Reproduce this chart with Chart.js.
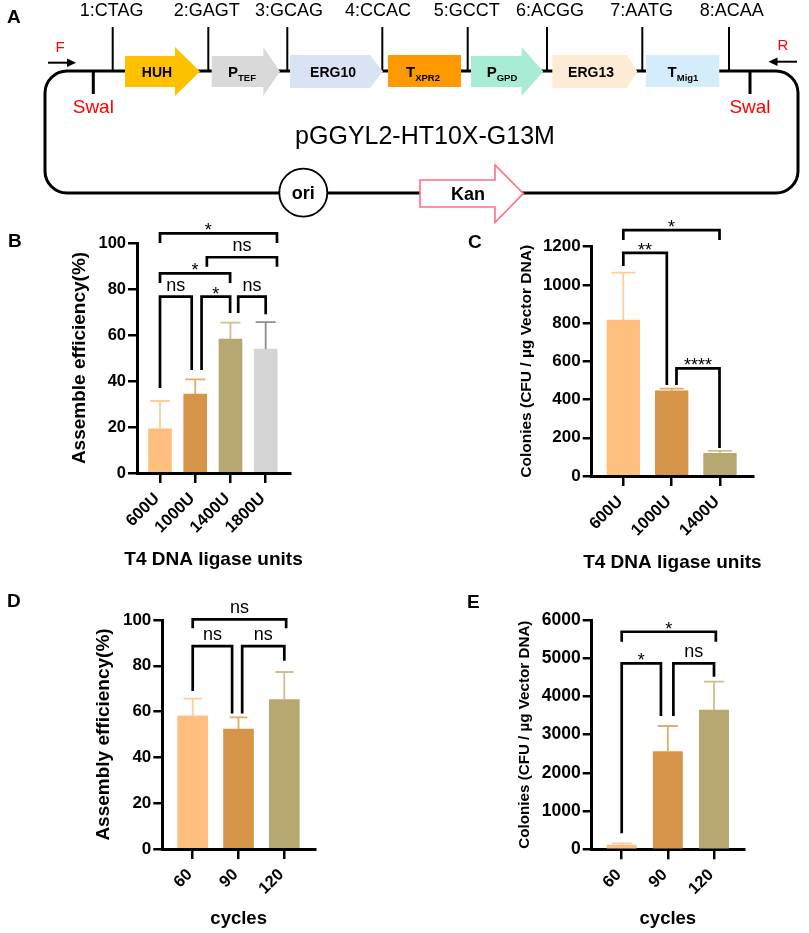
<!DOCTYPE html>
<html>
<head>
<meta charset="utf-8">
<script src="https://cdn.jsdelivr.net/npm/chart.js@4.4.1/dist/chart.umd.min.js"></script>
<style>
  html, body { margin: 0; padding: 0; background: #fff; }
  #page { position: relative; width: 809px; height: 933px; overflow: hidden; }
  #diagram { position: absolute; left: 0; top: 0; width: 809px; height: 933px; }
  .panel { position: absolute; }
</style>
</head>
<body>
<div id="page">
  <canvas id="diagram"></canvas>
  <div class="panel" id="panelB"><canvas></canvas></div>
  <div class="panel" id="panelC"><canvas></canvas></div>
  <div class="panel" id="panelD"><canvas></canvas></div>
  <div class="panel" id="panelE"><canvas></canvas></div>
</div>
<script>
// ---- data ----
// B: assembly efficiency vs T4 ligase units
const ligaseUnitsB = ['600U', '1000U', '1400U', '1800U'];
const efficiencyB = [19.2, 34.3, 58.2, 53.9];
const efficiencyErrB = [12.1, 6.4, 7.2, 11.7];
const yTicksB = [0, 20, 40, 60, 80, 100];
// brackets: from/to in bar index, at/leftEnd/rightEnd in axis units
const bracketsB = [
  { from: 0, to: 3.32, at: 104.2, leftEnd: 100, rightEnd: 100, text: '*', labelAt: 1.37 },
  { from: 1.33, to: 3.32, at: 93.8, leftEnd: 89.7, rightEnd: 89.7, text: 'ns' },
  { from: 0, to: 1.99, at: 86.8, leftEnd: 82.6, rightEnd: 82.6, text: '*' },
  { from: 0, to: 0.9, at: 76.7, leftEnd: 37, rightEnd: 44.8, text: 'ns' },
  { from: 1.18, to: 1.99, at: 76.7, leftEnd: 44.8, rightEnd: 69.6, text: '*' },
  { from: 2.22, to: 3.0, at: 76.7, leftEnd: 69.6, rightEnd: 69, text: 'ns' }
];

// C: colonies vs T4 ligase units
const ligaseUnitsC = ['600U', '1000U', '1400U'];
const coloniesC = [816, 446, 119];
const coloniesErrC = [248, 11, 12];
const yTicksC = [0, 200, 400, 600, 800, 1000, 1200];
const bracketsC = [
  { from: 0, to: 1.99, at: 1287, leftEnd: 1235, rightEnd: 1235, text: '*' },
  { from: 0, to: 0.9, at: 1168, leftEnd: 1099, rightEnd: 476, text: '**' },
  { from: 1.1, to: 1.99, at: 563, leftEnd: 476, rightEnd: 146, text: '****' }
];

// D: assembly efficiency vs cycles
const cyclesD = ['60', '90', '120'];
const efficiencyD = [58.2, 52.4, 65.2];
const efficiencyErrD = [7.5, 5.1, 12.1];
const yTicksD = [0, 20, 40, 60, 80, 100];
const bracketsD = [
  { from: 0, to: 2.04, at: 100.3, leftEnd: 96.4, rightEnd: 96.4, text: 'ns' },
  { from: 0, to: 0.86, at: 88.6, leftEnd: 69, rightEnd: 59.2, text: 'ns' },
  { from: 1.08, to: 2, at: 88.6, leftEnd: 59.2, rightEnd: 82.2, text: 'ns' }
];

// E: colonies vs cycles
const cyclesE = ['60', '90', '120'];
const coloniesE = [113, 2554, 3645];
const coloniesErrE = [44, 672, 741];
const yTicksE = [0, 1000, 2000, 3000, 4000, 5000, 6000];
const bracketsE = [
  { from: 0, to: 2.04, at: 5693, leftEnd: 5432, rightEnd: 5432, text: '*' },
  { from: 0, to: 0.85, at: 4867, leftEnd: 419, rightEnd: 3488, text: '*' },
  { from: 1.12, to: 2, at: 4867, leftEnd: 3488, rightEnd: 4518, text: 'ns' }
];

// A: plasmid map
const siteLabels = ['1:CTAG', '2:GAGT', '3:GCAG', '4:CCAC', '5:GCCT', '6:ACGG', '7:AATG', '8:ACAA'];
const parts = [
  { name: 'HUH', sub: '', shape: 'arrow', fill: '#FFC000' },
  { name: 'P', sub: 'TEF', shape: 'arrow', fill: '#D9D9D9' },
  { name: 'ERG10', sub: '', shape: 'tag', fill: '#DAE3F3' },
  { name: 'T', sub: 'XPR2', shape: 'box', fill: '#FF9900' },
  { name: 'P', sub: 'GPD', shape: 'arrow', fill: '#A8ECD5' },
  { name: 'ERG13', sub: '', shape: 'tag', fill: '#FDEBD5' },
  { name: 'T', sub: 'Mig1', shape: 'box', fill: '#D5ECFA' }
];

const barColors = ['#FFC07F', '#D59447', '#B6A870', '#D5D5D5'];
const errColors = ['#FDCD9B', '#E2AC6C', '#CDC08E', '#8E8E8E'];

const FONT = "'Liberation Sans', Arial, Helvetica, sans-serif";
Chart.defaults.font.family = FONT;
Chart.defaults.color = '#000';

// ---- panel A and panel letters ----
function drawDiagram() {
  const cv = document.getElementById('diagram');
  const dpr = window.devicePixelRatio || 1;
  cv.width = 809 * dpr; cv.height = 933 * dpr;
  const ctx = cv.getContext('2d');
  ctx.scale(dpr, dpr);

  ctx.strokeStyle = '#000';
  ctx.lineWidth = 3;
  ctx.beginPath();
  ctx.roundRect(45, 71, 753, 122, 22);
  ctx.stroke();

  // cut sites
  const siteX = [112.7, 208.3, 287.3, 382.3, 467.7, 547, 642.3, 729];
  const siteTextX = [111.7, 206.7, 289, 378, 466.7, 550, 641.7, 731.7];
  ctx.lineWidth = 2;
  ctx.font = '18px ' + FONT;
  ctx.textAlign = 'center';
  ctx.fillStyle = '#000';
  siteLabels.forEach((s, i) => {
    ctx.beginPath(); ctx.moveTo(siteX[i], 27); ctx.lineTo(siteX[i], 71); ctx.stroke();
    ctx.fillText(s, siteTextX[i], 16);
  });

  // parts
  const geom = [
    [125, 175, 200, 157], [211.7, 263.3, 280, 242], [290, 370, 383, 333],
    [388, 461, 461, 423], [471, 521.7, 543.3, 502], [552.3, 626.7, 637.3, 591],
    [646, 719.3, 719.3, 683]
  ];
  parts.forEach((p, i) => {
    const [x0, x1, x2, tx] = geom[i];
    ctx.beginPath();
    if (p.shape === 'arrow') {
      ctx.moveTo(x0, 56); ctx.lineTo(x1, 56); ctx.lineTo(x1, 47); ctx.lineTo(x2, 71.5);
      ctx.lineTo(x1, 96); ctx.lineTo(x1, 87); ctx.lineTo(x0, 87);
    } else if (p.shape === 'tag') {
      ctx.moveTo(x0, 55); ctx.lineTo(x1, 55); ctx.lineTo(x2, 71.5); ctx.lineTo(x1, 88); ctx.lineTo(x0, 88);
    } else {
      ctx.rect(x0, 55, x1 - x0, 32);
    }
    ctx.closePath();
    ctx.fillStyle = p.fill;
    ctx.fill();

    ctx.fillStyle = '#000';
    ctx.textAlign = 'left';
    const mainFont = 'bold ' + (p.sub ? 15 : 14) + 'px ' + FONT;
    const subFont = 'bold 9.5px ' + FONT;
    ctx.font = mainFont;
    const w1 = ctx.measureText(p.name).width;
    ctx.font = subFont;
    const w2 = p.sub ? ctx.measureText(p.sub).width : 0;
    const sx = tx - (w1 + w2) / 2;
    ctx.font = mainFont;
    ctx.fillText(p.name, sx, 77);
    if (p.sub) { ctx.font = subFont; ctx.fillText(p.sub, sx + w1, 80.5); }
  });

  // SwaI sites
  ctx.lineWidth = 3;
  [93.3, 750].forEach(x => {
    ctx.beginPath(); ctx.moveTo(x, 71); ctx.lineTo(x, 94); ctx.stroke();
  });
  ctx.fillStyle = '#FF0000';
  ctx.textAlign = 'center';
  ctx.font = '19px ' + FONT;
  ctx.fillText('Swal', 93.3, 113);
  ctx.fillText('Swal', 750, 113);
  ctx.font = '15px ' + FONT;
  ctx.fillText('F', 60, 52);
  ctx.fillText('R', 783, 50);

  // primers
  ctx.strokeStyle = '#000'; ctx.fillStyle = '#000'; ctx.lineWidth = 2;
  ctx.beginPath(); ctx.moveTo(48, 62.7); ctx.lineTo(70, 62.7); ctx.stroke();
  ctx.beginPath(); ctx.moveTo(76, 62.7); ctx.lineTo(67, 58.5); ctx.lineTo(67, 67); ctx.closePath(); ctx.fill();
  ctx.beginPath(); ctx.moveTo(797, 61.7); ctx.lineTo(775, 61.7); ctx.stroke();
  ctx.beginPath(); ctx.moveTo(768.5, 61.7); ctx.lineTo(777.5, 57.5); ctx.lineTo(777.5, 66); ctx.closePath(); ctx.fill();

  // plasmid name
  ctx.font = '25px ' + FONT;
  ctx.fillText('pGGYL2-HT10X-G13M', 425, 144);

  // ori
  ctx.beginPath(); ctx.arc(303.3, 192.7, 24, 0, Math.PI * 2);
  ctx.fillStyle = '#fff'; ctx.fill();
  ctx.lineWidth = 1.8; ctx.strokeStyle = '#000'; ctx.stroke();
  ctx.fillStyle = '#000'; ctx.font = 'bold 18px ' + FONT;
  ctx.fillText('ori', 303.3, 199);

  // Kan
  ctx.beginPath();
  ctx.moveTo(420, 180); ctx.lineTo(495, 180); ctx.lineTo(495, 165); ctx.lineTo(523.3, 193.5);
  ctx.lineTo(495, 222.5); ctx.lineTo(495, 207); ctx.lineTo(420, 207); ctx.closePath();
  ctx.fillStyle = '#fff'; ctx.fill();
  ctx.strokeStyle = '#FF6F80'; ctx.lineWidth = 1.6; ctx.stroke();
  ctx.fillStyle = '#000'; ctx.font = 'bold 18px ' + FONT;
  ctx.fillText('Kan', 468, 200);

  // panel letters
  ctx.textAlign = 'left';
  ctx.font = 'bold 19px ' + FONT;
  [['A', 7, 23], ['B', 8, 247], ['C', 468, 248], ['D', 7, 607], ['E', 467, 608]]
    .forEach(([t, x, y]) => ctx.fillText(t, x, y));
}

// ---- bar panels ----
function barPanel(id, p) {
  const el = document.getElementById(id);
  const [L, T, W, H] = p.box;
  Object.assign(el.style, { left: L + 'px', top: T + 'px', width: W + 'px', height: H + 'px' });
  const a = p.area;
  const padLeft = 10, padBottom = 4;
  const yWidth = a.l - padLeft;
  const xHeight = H - padBottom - a.b;

  const marks = {
    id: 'marks',
    afterDatasetsDraw(chart) {
      const { ctx, scales: { x, y } } = chart;
      ctx.save();
      ctx.lineWidth = 1.8;
      p.values.forEach((v, i) => {
        const px = x.getPixelForValue(i);
        const top = y.getPixelForValue(v + p.errors[i]);
        ctx.strokeStyle = errColors[i];
        ctx.beginPath();
        ctx.moveTo(px, y.getPixelForValue(v)); ctx.lineTo(px, top);
        ctx.moveTo(px - p.capW / 2, top); ctx.lineTo(px + p.capW / 2, top);
        ctx.stroke();
      });
      ctx.restore();
    },
    afterDraw(chart) {
      const { ctx, chartArea: ca, scales: { x, y } } = chart;
      ctx.save();
      ctx.strokeStyle = '#000'; ctx.fillStyle = '#000';
      ctx.lineWidth = 2.7; ctx.lineJoin = 'miter'; ctx.lineCap = 'butt';
      ctx.font = '18px ' + FONT; ctx.textAlign = 'center'; ctx.textBaseline = 'alphabetic';
      p.brackets.forEach(b => {
        const x1 = x.getPixelForValue(b.from), x2 = x.getPixelForValue(b.to);
        const yy = y.getPixelForValue(b.at);
        ctx.beginPath();
        ctx.moveTo(x1, y.getPixelForValue(b.leftEnd));
        ctx.lineTo(x1, yy); ctx.lineTo(x2, yy);
        ctx.lineTo(x2, y.getPixelForValue(b.rightEnd));
        ctx.stroke();
        const lx = x.getPixelForValue(b.labelAt !== undefined ? b.labelAt : (b.from + b.to) / 2);
        ctx.fillText(b.text, lx, b.text === 'ns' ? yy - 6 : yy + 3);
      });

      // axis titles (drawn here so they are not squeezed to the axis length)
      ctx.textBaseline = 'middle';
      ctx.font = 'bold ' + p.xTitleSize + 'px ' + FONT;
      ctx.fillText(p.xTitle, (ca.left + ca.right) / 2, p.xTitleY);
      ctx.translate(p.yTitleX, (ca.top + ca.bottom) / 2);
      ctx.rotate(-Math.PI / 2);
      ctx.font = 'bold ' + p.yTitleSize + 'px ' + FONT;
      ctx.fillText(p.yTitle, 0, 0);
      ctx.restore();
    }
  };

  new Chart(el.querySelector('canvas'), {
    type: 'bar',
    data: {
      datasets: [{
        data: p.values.map((v, i) => ({ x: i, y: v })),
        backgroundColor: barColors.slice(0, p.values.length),
        barThickness: p.barW,
        borderWidth: 0
      }]
    },
    options: {
      responsive: true,
      maintainAspectRatio: false,
      animation: false,
      layout: { padding: { left: padLeft, top: a.t, right: W - a.r, bottom: padBottom } },
      plugins: { legend: { display: false }, tooltip: { enabled: false } },
      scales: {
        x: {
          type: 'linear', min: p.xMin, max: p.xMax, offset: false, z: 1,
          afterFit: s => { s.height = xHeight; },
          afterBuildTicks: s => { s.ticks = p.labels.map((_, i) => ({ value: i })); },
          ticks: {
            callback: v => p.labels[v], autoSkip: false, minRotation: 45, maxRotation: 45,
            padding: 6, labelOffset: -3, font: { size: 16.5, weight: 'bold' }, color: '#000'
          },
          grid: { display: true, drawOnChartArea: false, drawTicks: true, tickLength: 10, lineWidth: 2.5, color: '#000', offset: false },
          border: { display: true, color: '#000', width: 3 }
        },
        y: {
          min: 0, max: p.yTicks[p.yTicks.length - 1], z: 1,
          afterFit: s => { s.width = yWidth; },
          afterBuildTicks: s => { s.ticks = p.yTicks.map(v => ({ value: v })); },
          ticks: { callback: v => String(v), font: { size: p.yTickSize, weight: 'bold' }, padding: 2, color: '#000' },
          grid: { display: true, drawOnChartArea: false, drawTicks: true, tickLength: 9, lineWidth: 2.5, color: '#000' },
          border: { display: true, color: '#000', width: 3 }
        }
      }
    },
    plugins: [marks]
  });
}

drawDiagram();

barPanel('panelB', {
  labels: ligaseUnitsB, values: efficiencyB, errors: efficiencyErrB, yTicks: yTicksB, brackets: bracketsB,
  yTitle: 'Assemble efficiency(%)', xTitle: 'T4 DNA ligase units',
  box: [0, 200, 400, 380], area: { l: 137, r: 290, t: 43, b: 273 },
  yTitleX: 80, yTitleSize: 19, xTitleY: 360, xTitleSize: 19, yTickSize: 16.5,
  xMin: -0.653, xMax: 3.69, barW: 23, capW: 20
});

barPanel('panelC', {
  labels: ligaseUnitsC, values: coloniesC, errors: coloniesErrC, yTicks: yTicksC, brackets: bracketsC,
  yTitle: 'Colonies (CFU / µg Vector DNA)', xTitle: 'T4 DNA ligase units',
  box: [400, 200, 409, 380], area: { l: 191.7, r: 353, t: 46.7, b: 276 },
  yTitleX: 126.7, yTitleSize: 15.5, xTitleY: 362.5, xTitleSize: 19, yTickSize: 17,
  xMin: -0.654, xMax: 2.683, barW: 32.7, capW: 24
});

barPanel('panelD', {
  labels: cyclesD, values: efficiencyD, errors: efficiencyErrD, yTicks: yTicksD, brackets: bracketsD,
  yTitle: 'Assembly efficiency(%)', xTitle: 'cycles',
  box: [0, 580, 400, 353], area: { l: 162.3, r: 315, t: 40, b: 269 },
  yTitleX: 104, yTitleSize: 19, xTitleY: 339, xTitleSize: 18.5, yTickSize: 17,
  xMin: -0.664, xMax: 2.67, barW: 30, capW: 18
});

barPanel('panelE', {
  labels: cyclesE, values: coloniesE, errors: coloniesErrE, yTicks: yTicksE, brackets: bracketsE,
  yTitle: 'Colonies (CFU / µg Vector DNA)', xTitle: 'cycles',
  box: [400, 580, 409, 353], area: { l: 191.7, r: 344, t: 40, b: 269.3 },
  yTitleX: 125, yTitleSize: 15.2, xTitleY: 339, xTitleSize: 18.5, yTickSize: 17.5,
  xMin: -0.65, xMax: 2.65, barW: 29.3, capW: 20
});
</script>
</body>
</html>
